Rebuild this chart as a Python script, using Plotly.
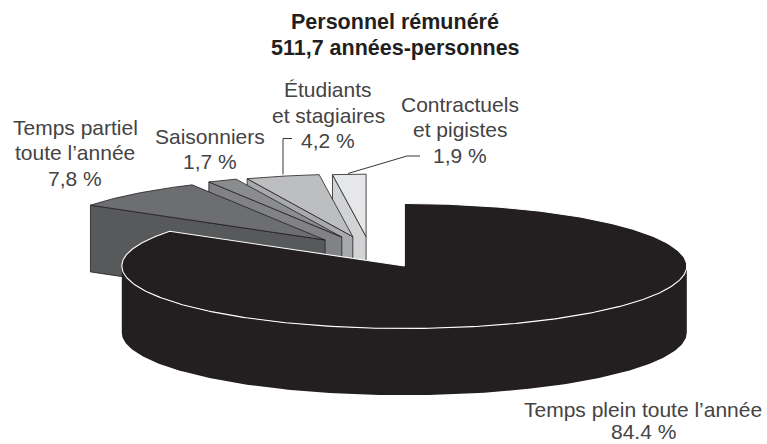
import numpy as np
import plotly.graph_objects as go

# ---- data ----
categories = ["Temps plein toute l'année", "Temps partiel toute l'année", "Saisonniers",
              "Étudiants et stagiaires", "Contractuels et pigistes"]
shares = [84.4, 7.8, 1.7, 4.2, 1.9]
title_lines = ["Personnel rémunéré", "511,7 années-personnes"]
label_lines = [["Temps plein toute l’année", "84.4 %"],
               ["Temps partiel", "toute l’année", "7,8 %"],
               ["Saisonniers", "1,7 %"],
               ["Étudiants", "et stagiaires", "4,2 %"],
               ["Contractuels", "et pigistes", "1,9 %"]]

# ---- geometry & style (pixel-space scale of the drawing) ----
W, H = 767, 444
CX, CY, RX, RY, DEPTH = 404.3, 266.0, 282.5, 62.5, 66.7
explode = [(0, 0), (-79.2, -26), (-62.5, -28.9), (-51.5, -29.3), (-38.2, -29.3)]
top_cols = ["#231f20", "#6d6e71", "#8a8c8e", "#bcbec0", "#e6e7e8"]
side_cols = ["#231f20", "#58595b", "#808285", "#a7a9ac", "#d1d3d4"]
label_pos = [(643, 409), (75, 127), (210, 136), (328, 89.5), (460, 104)]
line_steps = [22, 25.5, 25.5, 25.5, 25.5]
FONT = "Liberation Sans"
INK = "#454344"


def arc(a0, a1, dx=0.0, dy=0.0, n=160):
    t = np.radians(np.linspace(a0, a1, n))
    return CX + dx + RX * np.cos(t), CY + dy - RY * np.sin(t)


def poly(fig, x, y, fill, line, width=0.8):
    x = np.append(x, x[0]); y = np.append(y, y[0])
    fig.add_trace(go.Scatter(x=x, y=y, mode="lines", fill="toself", fillcolor=fill,
                             line=dict(color=line, width=width), hoverinfo="skip", showlegend=False))


fig = go.Figure()

# sweep clockwise from 12 o'clock
ends = 90 - np.cumsum(shares) * 3.6
starts = np.concatenate(([90.0], ends[:-1]))

# exploded slices: back to front
for i in [4, 3, 2, 1]:
    a0, a1 = starts[i], ends[i]
    dx, dy = explode[i]
    ax, ay = CX + dx, CY + dy
    ex, ey = arc(a0, a0, dx, dy, 1)  # radial cut facing the viewer
    poly(fig, np.array([ax, ex[0], ex[0], ax]), np.array([ay, ey[0], ey[0] + DEPTH, ay + DEPTH]),
         side_cols[i], "#231f20")
    sx, sy = arc(a0, a1, dx, dy, 40)
    poly(fig, np.concatenate(([ax], sx)), np.concatenate(([ay], sy)), top_cols[i], "#231f20")

# main slice: wall then top
wx, wy = arc(180, 360)
poly(fig, np.concatenate((wx, wx[::-1])), np.concatenate((wy, wy[::-1] + DEPTH)), top_cols[0], top_cols[0], 0)
sx, sy = arc(starts[0], ends[0], n=400)
poly(fig, np.concatenate(([CX], sx)), np.concatenate(([CY], sy)), top_cols[0], "#ffffff", 1.1)

# leader lines
fig.add_trace(go.Scatter(x=[283, 283, 292], y=[174.5, 138.5, 138.5], mode="lines",
                         line=dict(color="#231f20", width=0.9), hoverinfo="skip", showlegend=False))
fig.add_trace(go.Scatter(x=[348, 407, 420], y=[173.5, 156, 156], mode="lines",
                         line=dict(color="#231f20", width=0.9), hoverinfo="skip", showlegend=False))

for lines, (x, y), step in zip(label_lines, label_pos, line_steps):
    for k, txt in enumerate(lines):
        fig.add_annotation(x=x, y=y + k * step, text=txt, showarrow=False, xanchor="center",
                           yanchor="middle", align="center",
                           font=dict(family=FONT, size=21, color=INK))
for k, txt in enumerate(title_lines):
    fig.add_annotation(x=395, y=22 + k * 26, text="<b>" + txt + "</b>", showarrow=False,
                       xanchor="center", yanchor="middle", align="center",
                       font=dict(family=FONT, size=21.5, color="#231f20"))

fig.update_layout(width=W, height=H, margin=dict(l=0, r=0, t=0, b=0), paper_bgcolor="white",
                  plot_bgcolor="white", showlegend=False,
                  xaxis=dict(range=[0, W], visible=False, fixedrange=True),
                  yaxis=dict(range=[H, 0], visible=False, fixedrange=True))
fig.write_html("out.html", config={"displayModeBar": False},
               post_script="document.body.style.margin='0';document.documentElement.style.overflow='hidden';")
